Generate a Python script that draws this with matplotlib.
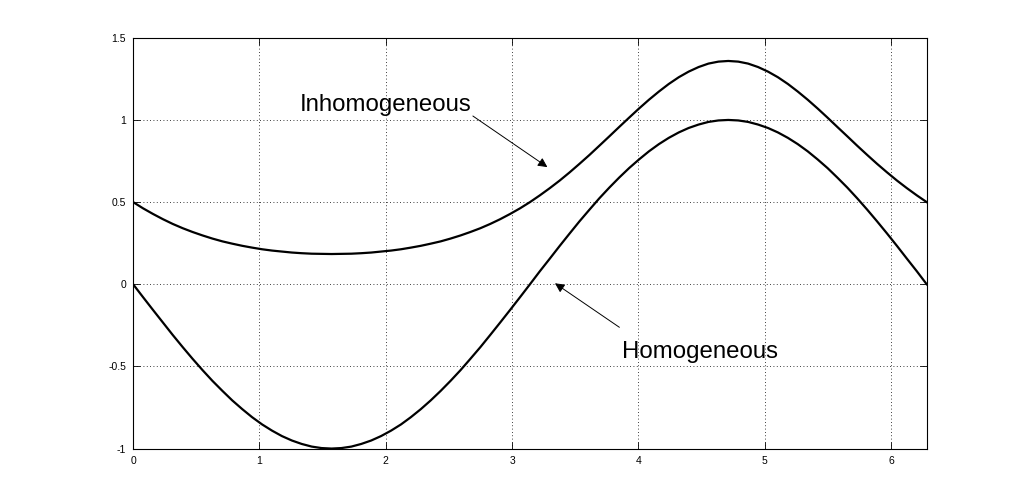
import matplotlib
matplotlib.use("Agg")
import matplotlib.pyplot as plt

# sample points
x = [0.000, 0.079, 0.157, 0.236, 0.314, 0.393, 0.471, 0.550, 0.628, 0.707,
     0.785, 0.864, 0.942, 1.021, 1.100, 1.178, 1.257, 1.335, 1.414, 1.492,
     1.571, 1.649, 1.728, 1.806, 1.885, 1.963, 2.042, 2.121, 2.199, 2.278,
     2.356, 2.435, 2.513, 2.592, 2.670, 2.749, 2.827, 2.906, 2.985, 3.063,
     3.142, 3.220, 3.299, 3.377, 3.456, 3.534, 3.613, 3.691, 3.770, 3.848,
     3.927, 4.006, 4.084, 4.163, 4.241, 4.320, 4.398, 4.477, 4.555, 4.634,
     4.712, 4.791, 4.869, 4.948, 5.027, 5.105, 5.184, 5.262, 5.341, 5.419,
     5.498, 5.576, 5.655, 5.733, 5.812, 5.890, 5.969, 6.048, 6.126, 6.205,
     6.283]

homogeneous = [0.000, -0.079, -0.156, -0.233, -0.309, -0.383, -0.454, -0.523, -0.588, -0.649,
               -0.707, -0.760, -0.809, -0.853, -0.891, -0.924, -0.951, -0.972, -0.988, -0.997,
               -1.000, -0.997, -0.988, -0.972, -0.951, -0.924, -0.891, -0.853, -0.809, -0.760,
               -0.707, -0.649, -0.588, -0.523, -0.454, -0.383, -0.309, -0.233, -0.156, -0.079,
               0.000, 0.079, 0.156, 0.233, 0.309, 0.383, 0.454, 0.523, 0.588, 0.649,
               0.707, 0.760, 0.809, 0.853, 0.891, 0.924, 0.951, 0.972, 0.988, 0.997,
               1.000, 0.997, 0.988, 0.972, 0.951, 0.924, 0.891, 0.853, 0.809, 0.760,
               0.707, 0.649, 0.588, 0.523, 0.454, 0.383, 0.309, 0.233, 0.156, 0.079,
               0.000]

inhomogeneous = [0.500, 0.462, 0.428, 0.396, 0.367, 0.341, 0.318, 0.297, 0.278, 0.261,
                 0.247, 0.234, 0.223, 0.213, 0.205, 0.199, 0.193, 0.189, 0.186, 0.185,
                 0.184, 0.185, 0.186, 0.189, 0.193, 0.199, 0.205, 0.213, 0.223, 0.234,
                 0.247, 0.261, 0.278, 0.297, 0.318, 0.341, 0.367, 0.396, 0.428, 0.462,
                 0.500, 0.541, 0.585, 0.631, 0.681, 0.733, 0.787, 0.843, 0.900, 0.957,
                 1.014, 1.070, 1.123, 1.173, 1.219, 1.260, 1.294, 1.322, 1.343, 1.355,
                 1.359, 1.355, 1.343, 1.322, 1.294, 1.260, 1.219, 1.173, 1.123, 1.070,
                 1.014, 0.957, 0.900, 0.843, 0.787, 0.733, 0.681, 0.631, 0.585, 0.541,
                 0.500]

xticks = [0, 1, 2, 3, 4, 5, 6]
yticks = [-1, -0.5, 0, 0.5, 1, 1.5]
ytick_labels = ["-1", "-0.5", "0", "0.5", "1", "1.5"]

plt.rcParams["font.family"] = ["Liberation Sans", "DejaVu Sans"]

fig = plt.figure(figsize=(10.24, 5.04), dpi=100)
ax = fig.add_axes([0.13, 0.11, 0.775, 0.815])

ax.plot(x, inhomogeneous, color="black", linewidth=1.6)
ax.plot(x, homogeneous, color="black", linewidth=1.6)

ax.set_xlim(0, 6.2832)
ax.set_ylim(-1, 1.5)
ax.set_xticks(xticks)
ax.set_xticklabels([str(t) for t in xticks])
ax.set_yticks(yticks)
ax.set_yticklabels(ytick_labels)
ax.tick_params(direction="in", length=5, width=0.6, labelsize=7.5,
               top=True, right=True, pad=5)
ax.grid(True, color="black", linestyle=(0, (1, 3)), linewidth=0.6)
for s in ax.spines.values():
    s.set_linewidth(0.8)

# labels with arrows
ax.text(1.32, 1.055, "Inhomogeneous", fontsize=17.3, ha="left", va="baseline")
ax.annotate("", xy=(3.28, 0.713), xytext=(2.69, 1.024),
            arrowprops=dict(arrowstyle="-|>", color="black", lw=0.7,
                            mutation_scale=14, shrinkA=0, shrinkB=0))

ax.text(3.87, -0.451, "Homogeneous", fontsize=17.3, ha="left", va="baseline")
ax.annotate("", xy=(3.34, 0.006), xytext=(3.85, -0.262),
            arrowprops=dict(arrowstyle="-|>", color="black", lw=0.7,
                            mutation_scale=14, shrinkA=0, shrinkB=0))

fig.savefig("out.png", dpi=100)
